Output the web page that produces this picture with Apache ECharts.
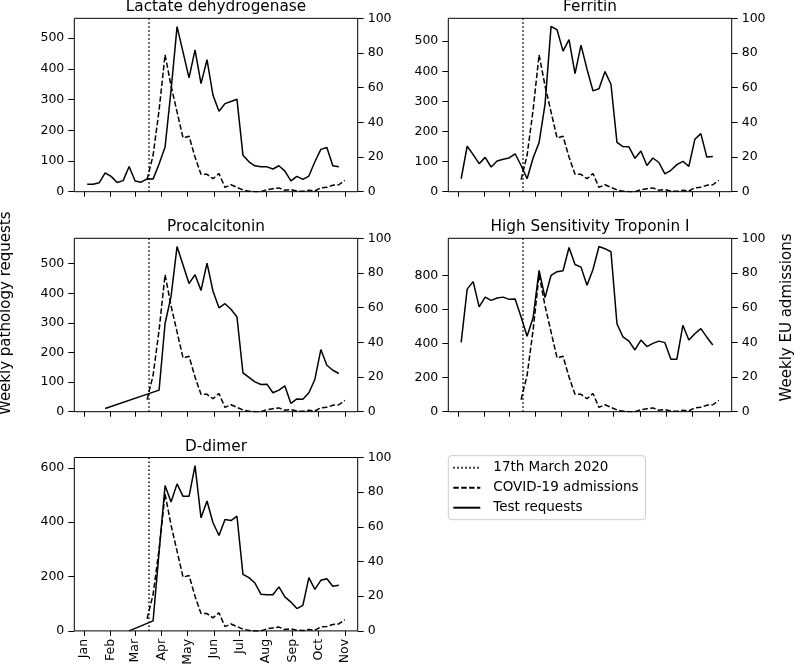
<!DOCTYPE html>
<html><head><meta charset="utf-8">
<script src="https://cdn.jsdelivr.net/npm/echarts@6/dist/echarts.min.js"></script>
<style>html,body{margin:0;padding:0;background:#fff}#c{width:795px;height:668px}</style>
</head><body><div id="c"></div>
<script>
// ---- data ----
const weekDates = ['2020-01-05','2020-01-12','2020-01-19','2020-01-26','2020-02-02','2020-02-09','2020-02-16','2020-02-23','2020-03-01','2020-03-08','2020-03-15','2020-03-22','2020-03-29','2020-04-05','2020-04-12','2020-04-19','2020-04-26','2020-05-03','2020-05-10','2020-05-17','2020-05-24','2020-05-31','2020-06-07','2020-06-14','2020-06-21','2020-06-28','2020-07-05','2020-07-12','2020-07-19','2020-07-26','2020-08-02','2020-08-09','2020-08-16','2020-08-23','2020-08-30','2020-09-06','2020-09-13','2020-09-20','2020-09-27','2020-10-04','2020-10-11','2020-10-18','2020-10-25','2020-11-01'];
const monthStarts = ['2020-01-01','2020-02-01','2020-03-01','2020-04-01','2020-05-01','2020-06-01','2020-07-01','2020-08-01','2020-09-01','2020-10-01','2020-11-01'];
const monthLabels = ['Jan','Feb','Mar','Apr','May','Jun','Jul','Aug','Sep','Oct','Nov'];
const lockdownDate = '2020-03-17';
const _ = null;
const admissions = [_,_,_,_,_,_,_,_,_,_,7,21,47,79,61,46,31,32,20,10,10,7.5,10.5,2.5,4,2.5,1,0.3,0,0,1.2,1.7,2.2,0.8,1.2,0.4,0.2,0.8,0.4,2.3,2.5,3.7,4,6.5];
const ldh = [24,24,29,61,50,30,36,82,35,31,42,41,90,146,330,538,455,371,462,352,430,314,262,287,294,301,119,97.5,84.5,81,81,74,84.5,67,35,50,40,51,97.5,138,144,84.5,81,_];
const ferritin = [43,151,123,93,114,82,102,108,112,126,87,43,112,163,291,549,538,467,505,392,487,407,335,342,399,357,164,150,149,111,135,87,112,97,59,71,90,101,84,174,193,115,117,_];
const procalcitonin = [_,_,_,11,_,_,_,_,_,_,_,_,73,298,390,558,496,433,463,410,502,407,351,365,346,320,131,116,101,92,93,64,73,87,28,43,42,64,109,210,157,140,129,_];
const troponin = [407,719,763,615,672,653,667,672,659,661,555,443,551,829,669,800,821,827,963,863,848,742,834,969,956,938,516,439,414,362,420,382,401,414,405,308,308,507,420,457,487,437,391,_];
const ddimer = [_,_,_,_,_,_,_,0,_,_,_,37,290,535,474,541,495,495,608,416,478,398,351,410,406,422,208,196,176,135,133,133,162,125,106,82,94,196,153,186,192,164,168,_];
const panelTitles = ['Lactate dehydrogenase','Ferritin','Procalcitonin','High Sensitivity Troponin I','D-dimer'];
const panelSeries = [ldh, ferritin, procalcitonin, troponin, ddimer];
const leftMax = [565, 576, 586, 1017, 638];
const leftTicks = [[0,100,200,300,400,500],[0,100,200,300,400,500],[0,100,200,300,400,500],[0,200,400,600,800],[0,200,400,600]];
const rightTicks = [0,20,40,60,80,100];
const legendNames = ['17th March 2020','COVID-19 admissions','Test requests'];

// ---- build ----
const FONT = 'DejaVu Sans';
const dayOf = s => (Date.UTC(+s.slice(0,4), +s.slice(5,7)-1, +s.slice(8,10)) - Date.UTC(2020,0,1)) / 86400000;
const weekDays = weekDates.map(dayOf);
const span = weekDays[weekDays.length-1] - weekDays[0];
const xMin = weekDays[0] - 0.05*span, xMax = weekDays[weekDays.length-1] + 0.05*span;
const monthDays = monthStarts.map(dayOf);
const monthMap = {}; monthDays.forEach((d,i)=>monthMap[d]=monthLabels[i]);
const pairs = vals => weekDays.map((d,i)=>[d, vals[i]]).filter(p=>p[1]!=null);

const L=[74.3,448.3,74.3,448.3,74.3], T=[18.3,18.3,238.3,238.3,457.5], W=283.4, H=173.4;
const grids=[], xAxes=[], yAxes=[], series=[], graphics=[];
const lbl = {fontSize:12.5, fontFamily:FONT, color:'#000'};
panelTitles.forEach((title,i)=>{
  grids.push({left:L[i], top:T[i], width:W, height:H, show:true, borderColor:'#000', borderWidth:1, backgroundColor:'transparent', containLabel:false, outerBoundsMode:'none'});
  xAxes.push({type:'value', gridIndex:i, min:xMin, max:xMax,
    axisLine:{show:false, onZero:false}, splitLine:{show:false},
    axisTick:{show:true, length:5, lineStyle:{color:'#000', width:1}, customValues:monthDays},
    axisLabel:Object.assign({show:i===4, customValues:monthDays, rotate:90, margin:8, formatter:v=>monthMap[Math.round(v)]||''}, lbl)});
  yAxes.push({type:'value', gridIndex:i, position:'left', min:0, max:leftMax[i],
    axisLine:{show:false, onZero:false}, splitLine:{show:false},
    axisTick:{show:true, length:6, lineStyle:{color:'#000', width:1}, customValues:leftTicks[i]},
    axisLabel:Object.assign({customValues:leftTicks[i], margin:10}, lbl)});
  yAxes.push({type:'value', gridIndex:i, position:'right', min:0, max:100,
    axisLine:{show:false, onZero:false}, splitLine:{show:false},
    axisTick:{show:true, length:6, lineStyle:{color:'#000', width:1}, customValues:rightTicks},
    axisLabel:Object.assign({customValues:rightTicks, margin:10}, lbl)});
  series.push({type:'line', name:legendNames[0], xAxisIndex:i, yAxisIndex:2*i+1, data:[], symbol:'none',
    lineStyle:{color:'#000', width:1.5, type:[1.5,2.5]}, itemStyle:{color:'#000'},
    markLine:{silent:true, symbol:['none','none'], label:{show:false}, lineStyle:{color:'#000', width:1.5, type:[1.5,2.5]}, data:[{xAxis:dayOf(lockdownDate)}]}});
  series.push({type:'line', name:legendNames[1], xAxisIndex:i, yAxisIndex:2*i+1, data:pairs(admissions), symbol:'none',
    lineStyle:{color:'#000', width:1.5, type:[5.5,2.4]}, itemStyle:{color:'#000'}, z:3});
  series.push({type:'line', name:legendNames[2], xAxisIndex:i, yAxisIndex:2*i, data:pairs(panelSeries[i]), symbol:'none',
    lineStyle:{color:'#000', width:1.5}, itemStyle:{color:'#000'}, z:2});
  graphics.push({type:'text', x:L[i]+W/2, y:T[i]-10.8, silent:true,
    style:{text:title, fontSize:15.3, fontFamily:FONT, fill:'#000', align:'center', verticalAlign:'middle'}});
});
graphics.push({type:'text', x:6.5, y:313.3, rotation:Math.PI/2, silent:true,
  style:{text:'Weekly pathology requests', fontSize:15, fontFamily:FONT, fill:'#000', align:'center', verticalAlign:'middle'}});
graphics.push({type:'text', x:787.5, y:317.5, rotation:Math.PI/2, silent:true,
  style:{text:'Weekly EU admissions', fontSize:15, fontFamily:FONT, fill:'#000', align:'center', verticalAlign:'middle'}});

const chart = echarts.init(document.getElementById('c'), null, {renderer:'canvas'});
chart.setOption({
  animation:false,
  backgroundColor:'#fff',
  grid:grids, xAxis:xAxes, yAxis:yAxes, series:series, graphic:graphics,
  legend:{orient:'vertical', left:448.3, top:455.7, data:legendNames, selectedMode:false,
    itemWidth:27, itemHeight:14, itemGap:6, padding:[5,7,5,4],
    itemStyle:{opacity:0},
    backgroundColor:'#fff', borderColor:'#ccc', borderWidth:1, borderRadius:3,
    textStyle:{fontSize:13.5, fontFamily:FONT, color:'#000', padding:[0,0,0,8]}}
});
</script></body></html>
